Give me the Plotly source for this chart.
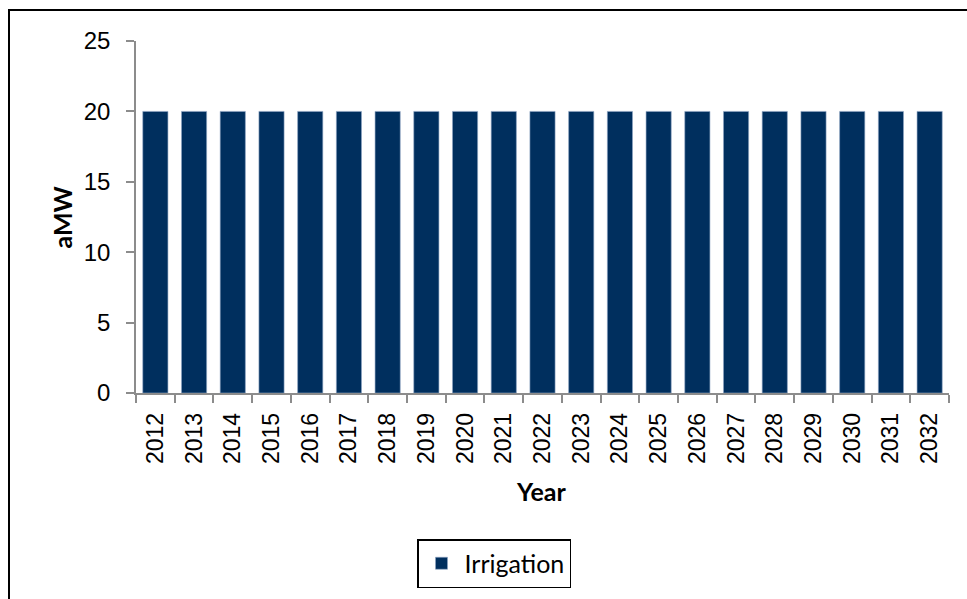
import plotly.graph_objects as go

years = [str(y) for y in range(2012, 2033)]
irrigation = [20] * 21
yticks = [0, 5, 10, 15, 20, 25]

L, R, T, B = 136, 18, 41, 205
W, H = 967, 599
pw, ph = W - L - R, H - T - B

def px_x(x):
    return (x - L) / pw

def px_y(y):
    return (H - B - y) / ph

fig = go.Figure()
fig.add_trace(go.Bar(
    x=years, y=irrigation, name="Irrigation",
    marker=dict(color="#002F5E", line=dict(color="#8EA6C4", width=0.6)),
))

fig.update_layout(
    width=W, height=H,
    margin=dict(l=L, r=R, t=T, b=B),
    paper_bgcolor="white", plot_bgcolor="white",
    bargap=0.35,
    showlegend=True,
    legend=dict(
        orientation="h", x=px_x(494), y=px_y(539), xanchor="center", yanchor="top",
        bordercolor="black", borderwidth=1.5, bgcolor="white",
        font=dict(family="Lato, Open Sans, sans-serif", size=25, color="black"),
        itemwidth=36,
    ),
    xaxis=dict(
        type="category", showline=True, linecolor="#8C8C8C", linewidth=1.5,
        ticks="outside", tickson="boundaries", ticklen=8, tickcolor="#8C8C8C", tickwidth=1.5,
        tickangle=-90, tickfont=dict(family="Liberation Sans, Arial, sans-serif", size=23, color="black"),
        ticklabelstandoff=9,
        showgrid=False, range=[-0.5, 20.5],
    ),
    yaxis=dict(
        range=[0, 25], tickvals=yticks, showline=True, linecolor="#8C8C8C", linewidth=1.5,
        ticks="outside", ticklen=8, tickcolor="#8C8C8C", tickwidth=1.5,
        tickfont=dict(family="Liberation Sans, Arial, sans-serif", size=24, color="black"),
        ticklabelstandoff=11,
        showgrid=False, zeroline=False,
    ),
    annotations=[
        dict(text="<b>Year</b>", x=px_x(541), y=px_y(492), xref="paper", yref="paper",
             showarrow=False, xanchor="center", yanchor="middle",
             font=dict(family="Lato, Open Sans, sans-serif", size=25, color="black")),
        dict(text="<b>aMW</b>", x=px_x(62), y=px_y(218), xref="paper", yref="paper",
             showarrow=False, textangle=-90, xanchor="center", yanchor="middle",
             font=dict(family="Lato, Open Sans, sans-serif", size=25, color="black")),
    ],
    shapes=[
        dict(type="rect", xref="paper", yref="paper",
             x0=px_x(9), x1=px_x(1000), y0=px_y(10), y1=px_y(650),
             line=dict(color="black", width=2), fillcolor="rgba(0,0,0,0)", layer="below"),
    ],
)

fig.write_html("out.html", config={"displayModeBar": False},
               post_script="document.body.style.margin='0';document.body.style.overflow='hidden';")
